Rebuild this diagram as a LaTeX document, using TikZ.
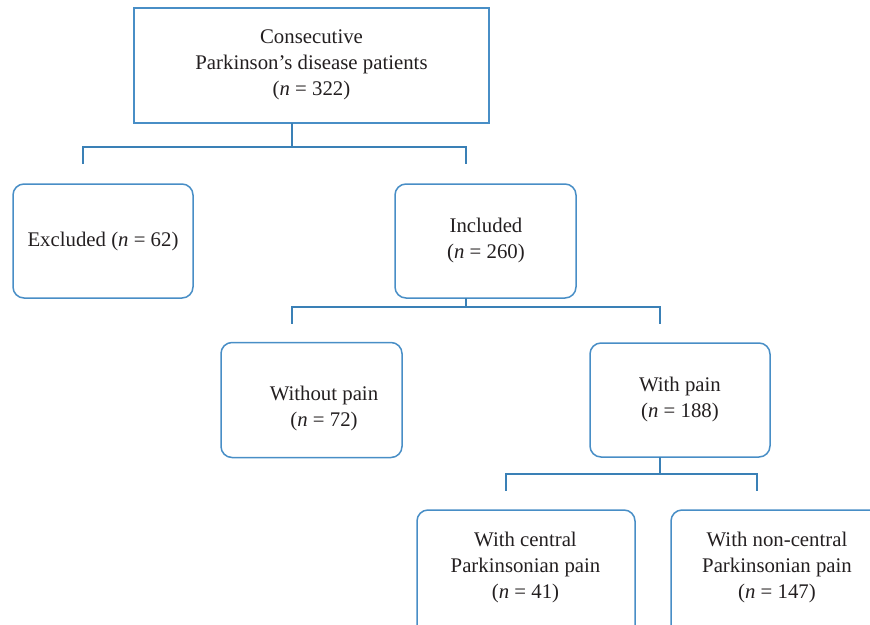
\documentclass[tikz,border=0pt]{standalone}
\usepackage{fontspec}
\setmainfont{Liberation Serif}
\definecolor{boxblue}{RGB}{72,142,198}
\definecolor{linkblue}{RGB}{58,128,182}
\definecolor{txt}{RGB}{35,31,32}
\begin{document}
\begin{tikzpicture}[x=1pt,y=-1pt,
  sharpbox/.style={draw=boxblue,line width=1.5pt,rectangle,inner sep=0pt},
  roundbox/.style={draw=boxblue,line width=1.5pt,rectangle,rounded corners=11pt,inner sep=0pt},
  lbl/.style={text=txt,align=center,inner sep=0pt,font=\fontsize{20.8}{26}\selectfont},
  link/.style={draw=linkblue,line width=1.8pt}]
\useasboundingbox (0,0) rectangle (870,624);
% boxes
\node[sharpbox,minimum width=355pt,minimum height=115pt] (top) at (311.5,65.5) {};
\node[roundbox,minimum width=180pt,minimum height=114pt] (excl) at (103,241) {};
\node[roundbox,minimum width=181pt,minimum height=114pt] (incl) at (485.5,241) {};
\node[roundbox,minimum width=181pt,minimum height=115pt] (wo) at (311.5,400) {};
\node[roundbox,minimum width=180pt,minimum height=114pt] (wp) at (680,400) {};
\node[roundbox,minimum width=218pt,minimum height=130pt] (cen) at (526,575) {};
\node[roundbox,minimum width=220pt,minimum height=130pt] (ncen) at (781,575) {};
% texts
\node[lbl] (ttop) at (311.5,65) {Consecutive\\Parkinson’s disease patients\\(\textit{n} = 322)};
\node[lbl] (texcl) at (103,241.5) {Excluded (\textit{n} = 62)};
\node[lbl] (tincl) at (486,240.5) {Included\\(\textit{n} = 260)};
\node[lbl] (two) at (324,408.5) {Without pain\\(\textit{n} = 72)};
\node[lbl] (twp) at (680,399.5) {With pain\\(\textit{n} = 188)};
\node[lbl] (tcen) at (525.5,567.5) {With central\\Parkinsonian pain\\(\textit{n} = 41)};
\node[lbl] (tncen) at (777,567.5) {With non-central\\Parkinsonian pain\\(\textit{n} = 147)};
% connector coordinates
\coordinate (a0) at (291.7,123);
\coordinate (a1) at (291.7,147);
\coordinate (aL) at (83,147);
\coordinate (aLd) at (83,164);
\coordinate (aR) at (465.7,147);
\coordinate (aRd) at (465.7,164);
\coordinate (b0) at (465.7,298);
\coordinate (b1) at (465.7,307);
\coordinate (bL) at (291.7,307);
\coordinate (bLd) at (291.7,323.5);
\coordinate (bR) at (660,307);
\coordinate (bRd) at (660,323.5);
\coordinate (c0) at (660,457);
\coordinate (c1) at (660,474);
\coordinate (cL) at (505.7,474);
\coordinate (cLd) at (505.7,490.5);
\coordinate (cR) at (756.7,474);
\coordinate (cRd) at (756.7,490.5);
\draw[link] (a0) -- (a1);
\draw[link] (aLd) -- (aL) -- (aR) -- (aRd);
\draw[link] (b0) -- (b1);
\draw[link] (bLd) -- (bL) -- (bR) -- (bRd);
\draw[link] (c0) -- (c1);
\draw[link] (cLd) -- (cL) -- (cR) -- (cRd);
\end{tikzpicture}
\end{document}
